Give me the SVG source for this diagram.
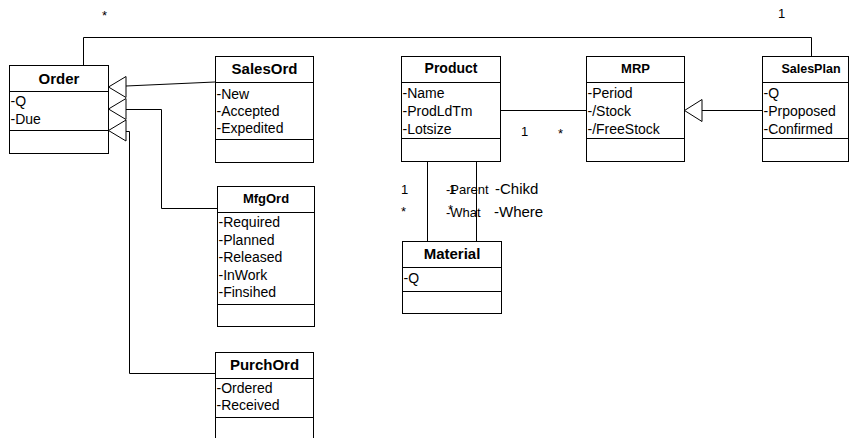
<svg xmlns="http://www.w3.org/2000/svg" width="850" height="438" viewBox="0 0 850 438">
<style>
.box{fill:#fff;stroke:#000;stroke-width:1}
.sep{stroke:#000;stroke-width:1}
.hd{font-family:"Liberation Sans",Arial,sans-serif;font-weight:bold;text-anchor:middle;fill:#000}
.at{font-family:"Liberation Sans",Arial,sans-serif;font-size:14px;fill:#000}
.lb{font-family:"Liberation Sans",Arial,sans-serif;font-size:13px;fill:#000}
.cn{fill:none;stroke:#000;stroke-width:1}
.tri{fill:#fff;stroke:#000;stroke-width:1}
</style>
<rect width="850" height="438" fill="#fff"/>
<g id="connectors">
<polyline class="cn" points="83.5,65.5 83.5,37.5 811.5,37.5 811.5,56.5"/>
<line class="cn" x1="126" y1="86" x2="215" y2="82"/>
<polyline class="cn" points="126,109.5 161.5,109.5 161.5,208.5 217,208.5"/>
<polyline class="cn" points="126,131.5 129.5,131.5 129.5,373.5 215,373.5"/>
<line class="cn" x1="501" y1="110.5" x2="586" y2="110.5"/>
<line class="cn" x1="702" y1="110.5" x2="762" y2="110.5"/>
<line class="cn" x1="427.5" y1="161.5" x2="427.5" y2="241.5"/>
<line class="cn" x1="476.5" y1="161.5" x2="476.5" y2="241.5"/>
<polygon class="tri" points="108.5,87 126,76.5 126,97.5"/>
<polygon class="tri" points="108.5,109 126,98.5 126,119.5"/>
<polygon class="tri" points="108.5,130.5 126,120 126,141"/>
<polygon class="tri" points="684.5,110.5 702,99.5 702,121.5"/>
<text class="lb" x="102" y="20">*</text>
<text class="lb" x="778" y="18">1</text>
<text class="lb" x="521" y="136">1</text>
<text class="lb" x="558" y="138">*</text>
<text class="lb" x="401" y="194">1</text>
<text class="lb" x="401" y="216">*</text>
<text class="lb" x="446" y="194">-Parent</text>
<text class="lb" x="446" y="217">-What</text>
<text class="lb" x="449" y="194">1</text>
<text class="lb" x="448" y="214">*</text>
<text class="lb" x="495" y="194" style="font-size:15px">-Chikd</text>
<text class="lb" x="494" y="217" style="font-size:15px">-Where</text>
</g>
<g id="Order">
<rect class="box" x="9.5" y="65.5" width="99" height="88"/>
<line class="sep" x1="9.5" y1="91.5" x2="108.5" y2="91.5"/>
<line class="sep" x1="9.5" y1="130.5" x2="108.5" y2="130.5"/>
<text class="hd" x="59" y="84" font-size="15">Order</text>
<text class="at" x="10.5" y="106">-Q</text>
<text class="at" x="10.5" y="124">-Due</text>
</g>
<g id="SalesOrd">
<rect class="box" x="215.5" y="56.5" width="98" height="106"/>
<line class="sep" x1="215.5" y1="82.5" x2="313.5" y2="82.5"/>
<line class="sep" x1="215.5" y1="139.5" x2="313.5" y2="139.5"/>
<text class="hd" x="264.5" y="74" font-size="15">SalesOrd</text>
<text class="at" x="216.5" y="99">-New</text>
<text class="at" x="216.5" y="116">-Accepted</text>
<text class="at" x="216.5" y="133">-Expedited</text>
</g>
<g id="MfgOrd">
<rect class="box" x="217.5" y="186.5" width="97" height="140"/>
<line class="sep" x1="217.5" y1="212.5" x2="314.5" y2="212.5"/>
<line class="sep" x1="217.5" y1="304.5" x2="314.5" y2="304.5"/>
<text class="hd" x="266" y="203" font-size="13">MfgOrd</text>
<text class="at" x="218.5" y="227" font-size="13">-Required</text>
<text class="at" x="218.5" y="244.5" font-size="13">-Planned</text>
<text class="at" x="218.5" y="262" font-size="13">-Released</text>
<text class="at" x="218.5" y="279.5" font-size="13">-InWork</text>
<text class="at" x="218.5" y="297" font-size="13">-Finsihed</text>
</g>
<g id="PurchOrd">
<rect class="box" x="215.5" y="352.5" width="98" height="100"/>
<line class="sep" x1="215.5" y1="378.5" x2="313.5" y2="378.5"/>
<line class="sep" x1="215.5" y1="417.5" x2="313.5" y2="417.5"/>
<text class="hd" x="264.5" y="370" font-size="15">PurchOrd</text>
<text class="at" x="216.5" y="393">-Ordered</text>
<text class="at" x="216.5" y="410">-Received</text>
</g>
<g id="Product">
<rect class="box" x="401.5" y="56.5" width="99" height="105"/>
<line class="sep" x1="401.5" y1="82.5" x2="500.5" y2="82.5"/>
<line class="sep" x1="401.5" y1="138.5" x2="500.5" y2="138.5"/>
<text class="hd" x="451" y="73" font-size="14">Product</text>
<text class="at" x="402.5" y="98">-Name</text>
<text class="at" x="402.5" y="116">-ProdLdTm</text>
<text class="at" x="402.5" y="134">-Lotsize</text>
</g>
<g id="MRP">
<rect class="box" x="586.5" y="56.5" width="98" height="105"/>
<line class="sep" x1="586.5" y1="82.5" x2="684.5" y2="82.5"/>
<line class="sep" x1="586.5" y1="138.5" x2="684.5" y2="138.5"/>
<text class="hd" x="635.5" y="73" font-size="13">MRP</text>
<text class="at" x="587.5" y="98">-Period</text>
<text class="at" x="587.5" y="116">-/Stock</text>
<text class="at" x="587.5" y="134">-/FreeStock</text>
</g>
<g id="SalesPlan">
<rect class="box" x="762.5" y="56.5" width="86" height="105"/>
<line class="sep" x1="762.5" y1="82.5" x2="848.5" y2="82.5"/>
<line class="sep" x1="762.5" y1="138.5" x2="848.5" y2="138.5"/>
<text class="hd" x="811" y="73" font-size="12.5">SalesPlan</text>
<text class="at" x="763.5" y="98">-Q</text>
<text class="at" x="763.5" y="116">-Prpoposed</text>
<text class="at" x="763.5" y="134">-Confirmed</text>
</g>
<g id="Material">
<rect class="box" x="402.5" y="241.5" width="99" height="72"/>
<line class="sep" x1="402.5" y1="267.5" x2="501.5" y2="267.5"/>
<line class="sep" x1="402.5" y1="291.5" x2="501.5" y2="291.5"/>
<text class="hd" x="452" y="259" font-size="15">Material</text>
<text class="at" x="403.5" y="283">-Q</text>
</g>
</svg>
